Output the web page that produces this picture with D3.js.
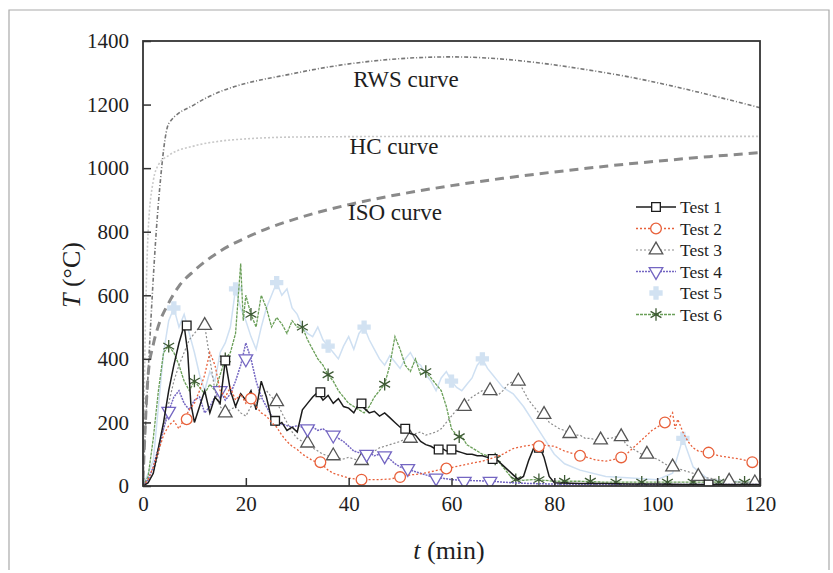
<!DOCTYPE html>
<html>
<head>
<meta charset="utf-8">
<script src="https://cdn.jsdelivr.net/npm/d3@7"></script>
<style>
	body { margin: 0; background: #fff; }
</style>
</head>
<body>
<div id="chart"></div>
<script>
// Standard fire curves
const rws = [[0,20],[3,890],[5,1140],[10,1200],[30,1300],[60,1350],[90,1300],[120,1190]]
const hc = [[0,20],[0.5,530],[1,800],[2,960],[3,1010],[5,1040],[10,1070],[15,1085],[20,1092],[30,1098],[60,1100],[120,1100]]
const iso = [[0,20],[1,349],[2,445],[3,504],[5,576],[7,629],[10,678],[15,739],[20,781],[25,815],[30,842],[40,885],[50,918],[60,945],[70,968],[80,988],[90,1006],[100,1022],[110,1036],[120,1049]]

// Tests
const test1 = [[0,0],[1,10],[2,40],[3,120],[4,200],[5,300],[6,380],[7,450],[8,505],[8.7,420],[9.3,260],[10,200],[11,250],[12,300],[13,230],[14,280],[15,260],[16,395],[17,300],[18,250],[19,290],[20,270],[21,300],[22,240],[23,330],[24,280],[25,210],[26,190],[27,200],[28,175],[29,185],[30,170],[31,240],[32,260],[33,280],[34,295],[35,270],[36,285],[37,260],[38,275],[39,250],[40,245],[41,230],[42,260],[43,245],[44,230],[45,235],[46,220],[47,230],[48,215],[49,200],[50,185],[51,180],[52,165],[53,160],[54,140],[55,130],[56,125],[57,115],[58,120],[59,110],[60,115],[61,110],[62,105],[63,100],[64,100],[65,95],[66,95],[67,90],[68,85],[69,80],[70,65],[71,50],[72,35],[73,20],[74,30],[75,80],[76,120],[77,130],[78,90],[79,30],[80,10],[85,8],[90,8],[95,6],[100,6],[105,5],[110,5],[115,5],[120,5]]
const test1Marks = [[8.5,505],[16,395],[25.7,205],[34.5,295],[42.5,260],[51,180],[57.5,115],[60,115],[68,85],[77,120],[110,5]]

const test2 = [[0,0],[1,20],[2,60],[3,110],[4,160],[5,190],[6,205],[7,180],[8,210],[9,240],[10,260],[11,300],[12,350],[13,420],[14,380],[15,300],[16,280],[17,310],[18,270],[19,290],[20,260],[21,280],[22,250],[23,230],[24,220],[25,200],[26,185],[27,160],[28,140],[29,125],[30,115],[31,100],[32,90],[33,80],[34,75],[35,65],[36,50],[37,40],[38,35],[39,30],[40,25],[42,20],[44,20],[46,20],[48,22],[50,28],[52,35],[54,38],[56,45],[58,52],[60,58],[62,65],[64,72],[66,78],[68,88],[70,100],[72,118],[74,125],[76,130],[78,128],[80,125],[82,110],[84,100],[86,92],[88,82],[90,78],[92,85],[94,100],[96,130],[98,160],[99,175],[100,185],[101,195],[102,205],[103,230],[103.5,180],[104,210],[105,170],[106,140],[107,120],[108,110],[110,105],[112,95],[114,90],[116,85],[118,78],[120,72]]
const test2Marks = [[8.5,210],[21,275],[34.5,75],[42.5,20],[50,28],[59,55],[77,125],[85,95],[93,90],[101.5,200],[110,105],[118.5,75]]

const test3 = [[0,0],[1,10],[2,40],[3,100],[4,180],[5,260],[6,330],[7,380],[8,420],[9,460],[10,480],[11,500],[12,505],[13,400],[14,300],[15,250],[16,230],[17,240],[18,250],[19,230],[20,220],[21,250],[22,260],[23,280],[24,300],[25,280],[26,265],[27,230],[28,200],[29,170],[30,150],[31,140],[32,135],[33,120],[34,110],[35,100],[36,95],[37,95],[38,88],[39,85],[40,90],[41,85],[42,80],[43,85],[44,95],[45,110],[46,120],[47,125],[48,130],[49,135],[50,140],[51,148],[52,150],[53,165],[54,170],[55,160],[56,165],[57,170],[58,180],[59,200],[60,220],[61,240],[62,250],[63,265],[64,280],[65,290],[66,300],[67,300],[68,290],[69,285],[70,300],[71,320],[72,330],[73,330],[74,300],[75,270],[76,250],[77,230],[78,225],[79,200],[80,190],[81,180],[82,175],[83,165],[84,160],[85,160],[86,150],[87,150],[88,145],[89,145],[90,150],[91,150],[92,155],[93,155],[94,130],[95,120],[96,110],[97,100],[98,100],[99,90],[100,85],[101,75],[102,65],[103,60],[104,55],[105,50],[106,45],[107,40],[108,30],[110,25],[112,20],[114,15],[116,12],[118,10],[120,10]]
const test3Marks = [[12,505],[16,230],[26,265],[32,135],[37,95],[42.5,80],[52,150],[62.5,250],[67.5,300],[73,330],[78,225],[83,165],[89,145],[93,155],[98,100],[103,60],[108,30],[114,15],[119,10]]

const test4 = [[0,0],[1,20],[2,60],[3,120],[4,180],[5,235],[6,280],[7,300],[8,260],[9,240],[10,270],[11,280],[12,230],[13,250],[14,280],[15,300],[16,270],[17,290],[18,330],[19,380],[20,450],[21,400],[22,330],[23,280],[24,250],[25,220],[26,200],[27,195],[28,190],[29,185],[30,190],[31,185],[32,180],[33,185],[34,175],[35,180],[36,170],[37,160],[38,150],[39,140],[40,125],[41,110],[42,105],[43,100],[44,105],[45,95],[46,100],[47,95],[48,85],[49,70],[50,60],[51,55],[52,50],[53,45],[54,40],[55,35],[56,30],[57,28],[58,25],[60,20],[62,18],[64,17],[66,16],[68,15],[70,12],[72,10],[75,8],[80,6],[90,5],[100,5],[110,5],[120,5]]
const test4Marks = [[5,235],[15,300],[20,400],[32,180],[37,160],[43.5,100],[47,95],[51.5,55],[57,25],[62.5,15],[67.5,15]]

const test5 = [[0,0],[2,80],[3,250],[4,420],[5,520],[6,560],[7,500],[8,540],[9,480],[10,420],[11,350],[12,300],[13,360],[14,330],[15,420],[16,450],[17,500],[18,620],[19,560],[20,520],[21,470],[22,430],[23,500],[24,560],[25,600],[26,640],[27,600],[28,620],[29,560],[30,540],[31,500],[32,480],[33,470],[34,500],[35,460],[36,440],[37,420],[38,400],[39,440],[40,470],[41,430],[42,480],[43,500],[44,460],[45,430],[46,400],[47,380],[48,410],[49,390],[50,370],[51,400],[52,420],[53,390],[54,380],[55,350],[56,330],[57,300],[58,340],[59,360],[60,330],[61,310],[62,300],[63,320],[64,340],[65,380],[66,400],[67,370],[68,350],[69,330],[70,310],[72,290],[74,250],[76,200],[78,150],[80,100],[82,70],[85,50],[90,30],[95,25],[100,20],[103,40],[105,150],[107,60],[110,20],[115,15],[120,10]]
const test5Marks = [[6,560],[18,620],[26,640],[36,440],[43,500],[60,330],[66,400],[105,150]]

const test6 = [[0,0],[1,30],[2,150],[3,300],[4,420],[5,440],[6,420],[7,380],[8,330],[9,300],[10,330],[11,310],[12,290],[13,320],[14,300],[15,350],[16,400],[17,420],[18,480],[19,700],[19.5,520],[20,600],[21,540],[22,500],[23,600],[24,560],[25,500],[26,530],[27,510],[28,480],[29,520],[30,500],[31,500],[32,460],[33,430],[34,400],[35,380],[36,350],[37,330],[38,300],[39,280],[40,260],[41,250],[42,240],[43,230],[44,250],[45,280],[46,300],[47,320],[48,380],[49,470],[50,430],[51,380],[52,360],[53,400],[54,350],[55,360],[56,340],[57,320],[58,300],[59,250],[60,180],[61,160],[62,155],[63,130],[64,120],[65,110],[66,100],[67,95],[68,85],[69,80],[70,60],[71,40],[72,20],[74,18],[76,20],[78,18],[80,15],[85,15],[90,12],[95,12],[100,12],[105,12],[110,12],[115,12],[120,12]]
const test6Marks = [[5,440],[10,330],[16,400],[21,540],[31,500],[36,350],[47,320],[55,360],[61.5,155],[68.5,85],[72.5,20],[77,20],[82,15],[87,15],[92,12],[97,12],[102,12],[107,12],[112,12],[117,12]]

const testNames = ['Test 1', 'Test 2', 'Test 3', 'Test 4', 'Test 5', 'Test 6']
const curveNames = ['RWS curve', 'HC curve', 'ISO curve']
const xTicks = [0, 20, 40, 60, 80, 100, 120]
const yTicks = [0, 200, 400, 600, 800, 1000, 1200, 1400]

const width = 833
const height = 573
const plot = { left: 143, right: 760, top: 41, bottom: 486 }
const serif = "'Liberation Serif', 'Times New Roman', Tinos, 'DejaVu Serif', serif"
const ink = '#1e1e1e'

const x = d3.scaleLinear().domain([0, 120]).range([plot.left, plot.right])
const y = d3.scaleLinear().domain([0, 1400]).range([plot.bottom, plot.top])

const svg =
	d3.select('#chart')
		.append('svg')
		.attr('width', width)
		.attr('height', height)
		.attr('font-family', serif)

// Scan border
svg.append('path')
	.attr('d', 'M9,570 V10 H829 V570')
	.attr('fill', 'none')
	.attr('stroke', '#aaa')
	.attr('stroke-width', 1.2)

svg.append('clipPath')
	.attr('id', 'clip')
	.append('rect')
	.attr('x', plot.left)
	.attr('y', plot.top)
	.attr('width', plot.right - plot.left)
	.attr('height', plot.bottom - plot.top)

const body = svg.append('g').attr('clip-path', 'url(#clip)')

const smooth = d3.line().x(d => x(d[0])).y(d => y(d[1])).curve(d3.curveMonotoneX)
const straight = d3.line().x(d => x(d[0])).y(d => y(d[1]))

// Fire curves
const fireCurves = [
	{ data: rws, stroke: '#777', width: 1.6, dash: '4,2,1,2' },
	{ data: hc, stroke: '#c8c8c8', width: 1.6, dash: '2,2' },
	{ data: iso, stroke: '#8a8a8a', width: 3, dash: '9,6' }
]

body.selectAll('path.fire')
	.data(fireCurves)
	.enter()
	.append('path')
	.attr('class', 'fire')
	.attr('d', d => smooth(d.data))
	.attr('fill', 'none')
	.attr('stroke', d => d.stroke)
	.attr('stroke-width', d => d.width)
	.attr('stroke-dasharray', d => d.dash)

// Test series
const tests = [
	{ data: test5, marks: test5Marks, stroke: '#cfe0f2', width: 1.5, dash: null, symbol: d3.symbolCross, fill: '#d2e2f2', mstroke: '#d2e2f2', size: 80 },
	{ data: test6, marks: test6Marks, stroke: '#6a9f58', width: 1.3, dash: '3,1', symbol: d3.symbolAsterisk, fill: 'none', mstroke: '#3d5a34', size: 110 },
	{ data: test3, marks: test3Marks, stroke: '#8c8c8c', width: 1.2, dash: '2,2', symbol: d3.symbolTriangle, fill: '#fff', mstroke: '#555', size: 80 },
	{ data: test4, marks: test4Marks, stroke: '#7466c2', width: 1.5, dash: '2,1', symbol: d3.symbolTriangle, fill: '#fff', mstroke: '#7466c2', size: 80, flip: true },
	{ data: test1, marks: test1Marks, stroke: '#1c1c1c', width: 1.5, dash: null, symbol: d3.symbolSquare, fill: '#fff', mstroke: '#1c1c1c', size: 75 },
	{ data: test2, marks: test2Marks, stroke: '#e8603a', width: 1.3, dash: '2,2', symbol: d3.symbolCircle, fill: '#fff', mstroke: '#e8603a', size: 90 }
]

const series = body.selectAll('g.test')
	.data(tests)
	.enter()
	.append('g')
	.attr('class', 'test')

series.append('path')
	.attr('d', d => straight(d.data))
	.attr('fill', 'none')
	.attr('stroke', d => d.stroke)
	.attr('stroke-width', d => d.width)
	.attr('stroke-dasharray', d => d.dash)

series.each(function(s) {
	d3.select(this)
		.selectAll('path.mark')
		.data(s.marks)
		.enter()
		.append('path')
		.attr('class', 'mark')
		.attr('d', d3.symbol().type(s.symbol).size(s.size))
		.attr('transform', d => `translate(${x(d[0])},${y(d[1])})${s.flip ? ' rotate(180)' : ''}`)
		.attr('fill', s.fill)
		.attr('stroke', s.mstroke)
		.attr('stroke-width', 1.3)
})

// Curve labels
const curveLabelPos = [[406, 87], [394, 154], [395, 220]]
svg.selectAll('text.curve-label')
	.data(curveNames)
	.enter()
	.append('text')
	.attr('class', 'curve-label')
	.attr('x', (d, i) => curveLabelPos[i][0])
	.attr('y', (d, i) => curveLabelPos[i][1])
	.attr('text-anchor', 'middle')
	.style('font-family', serif)
	.style('font-size', '23px')
	.attr('fill', ink)
	.text(d => d)

// Axes
svg.append('g')
	.attr('transform', `translate(0,${plot.bottom})`)
	.call(d3.axisBottom(x).tickValues(xTicks).tickFormat(d3.format('d')).tickSize(-8).tickPadding(10).tickSizeOuter(0))

svg.append('g')
	.attr('transform', `translate(${plot.left},0)`)
	.call(d3.axisLeft(y).tickValues(yTicks).tickFormat(d3.format('d')).tickSize(-8).tickPadding(14).tickSizeOuter(0))

svg.selectAll('.domain').remove()
svg.selectAll('.tick line').attr('stroke', '#333').attr('stroke-width', 1.5)
svg.selectAll('.tick text')
	.style('font-family', serif)
	.style('font-size', '21px')
	.attr('fill', ink)

svg.append('rect')
	.attr('x', plot.left)
	.attr('y', plot.top)
	.attr('width', plot.right - plot.left)
	.attr('height', plot.bottom - plot.top)
	.attr('fill', 'none')
	.attr('stroke', '#333')
	.attr('stroke-width', 1.8)

// Axis titles
const xTitle = svg.append('text')
	.attr('x', 449)
	.attr('y', 559)
	.attr('text-anchor', 'middle')
	.style('font-family', serif)
	.style('font-size', '26px')
	.attr('fill', ink)
xTitle.append('tspan').style('font-style', 'italic').text('t')
xTitle.append('tspan').text(' (min)')

const yTitle = svg.append('text')
	.attr('transform', 'translate(80,275) rotate(-90)')
	.attr('text-anchor', 'middle')
	.style('font-family', serif)
	.style('font-size', '26px')
	.attr('fill', ink)
yTitle.append('tspan').style('font-style', 'italic').text('T')
yTitle.append('tspan').text(' (°C)')

// Legend
const legendOrder = [4, 5, 2, 3, 0, 1]
const legend = svg.append('g')
	.attr('class', 'legend')
	.attr('transform', 'translate(636,207)')

const rows = legend.selectAll('g.row')
	.data(testNames)
	.enter()
	.append('g')
	.attr('class', 'row')
	.attr('transform', (d, i) => `translate(0,${i * 21.5})`)

rows.append('line')
	.attr('x1', 0)
	.attr('x2', 40)
	.attr('stroke', (d, i) => i === 4 ? 'none' : tests[legendOrder[i]].stroke)
	.attr('stroke-width', (d, i) => tests[legendOrder[i]].width)
	.attr('stroke-dasharray', (d, i) => tests[legendOrder[i]].dash)

rows.append('path')
	.attr('d', (d, i) => d3.symbol().type(tests[legendOrder[i]].symbol).size(tests[legendOrder[i]].size)())
	.attr('transform', (d, i) => `translate(20,0)${tests[legendOrder[i]].flip ? ' rotate(180)' : ''}`)
	.attr('fill', (d, i) => tests[legendOrder[i]].fill)
	.attr('stroke', (d, i) => tests[legendOrder[i]].mstroke)
	.attr('stroke-width', 1.3)

rows.append('text')
	.attr('x', 44)
	.attr('dy', '0.35em')
	.style('font-family', serif)
	.style('font-size', '17.5px')
	.attr('fill', ink)
	.text(d => d)
</script>
</body>
</html>
